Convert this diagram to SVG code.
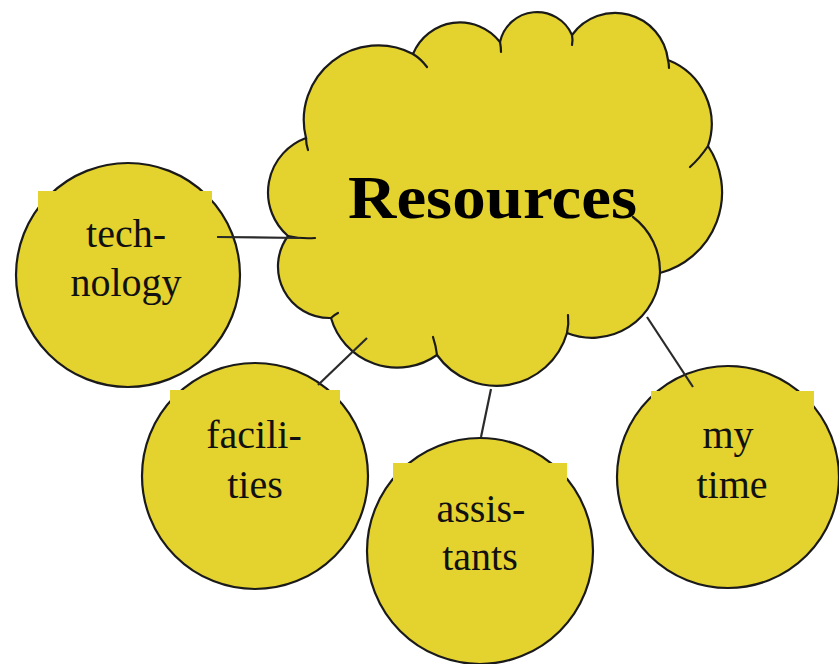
<svg xmlns="http://www.w3.org/2000/svg" width="839" height="664" viewBox="0 0 839 664">
<style>
.shape{fill:#E4D22E;stroke:#1a1a1a;stroke-width:2.2}
.stub{fill:none;stroke:#1a1a1a;stroke-width:2.2;stroke-linecap:round}
.pad{fill:#E4D22E;stroke:none}
.lbl{font-family:"Liberation Serif","Times New Roman",serif;font-size:40px;fill:#111;text-anchor:middle}
.title{font-family:"Liberation Serif","Times New Roman",serif;font-size:62px;font-weight:bold;fill:#000}
.conn{stroke:#2a2a2a;stroke-width:2.2;fill:none}
</style>
<rect width="839" height="664" fill="#ffffff"/>
<g id="resources">
<path class="shape" d="M288,236 A57.8,57.8 0 0 1 306,138 A74.5,74.5 0 0 1 413,54 A50.7,50.7 0 0 1 500,42 A38,38 0 0 1 572,35 A53.2,53.2 0 0 1 668,60 A68.6,68.6 0 0 1 708,146 A83.4,83.4 0 0 1 660,273 A68,68 0 0 1 567,333 A73.2,73.2 0 0 1 437,355 A68.9,68.9 0 0 1 331,318 A51.5,51.5 0 0 1 288,236 Z"/>
<path class="stub" d="M288,236 Q301,239 315,238"/>
<path class="stub" d="M306,138 Q306,144 308,150"/>
<path class="stub" d="M413,54 Q421,59 427,67"/>
<path class="stub" d="M500,42 Q501,47 501,52"/>
<path class="stub" d="M572,35 Q573,40 572,45"/>
<path class="stub" d="M668,60 Q669,64 669,68"/>
<path class="stub" d="M708,146 Q700,158 690,167"/>
<path class="stub" d="M633,217 A68,68 0 0 1 660,273"/>
<path class="stub" d="M567,333 Q569,324 568,315"/>
<path class="stub" d="M437,355 Q436,346 433,337"/>
<path class="stub" d="M331,318 Q334,315 338,313"/>
<text class="title" x="348" y="218" textLength="289" lengthAdjust="spacingAndGlyphs">Resources</text>
</g>
<g id="technology">
<circle class="shape" cx="128" cy="275" r="112"/>
<rect class="pad" x="38" y="191" width="174" height="140"/>
<text class="lbl" x="126" y="247">tech-</text>
<text class="lbl" x="126" y="296">nology</text>
</g>
<g id="facilities">
<circle class="shape" cx="255" cy="476" r="113"/>
<rect class="pad" x="170" y="390" width="170" height="150"/>
<text class="lbl" x="254" y="448">facili-</text>
<text class="lbl" x="255" y="498">ties</text>
</g>
<g id="assistants">
<circle class="shape" cx="480" cy="551" r="113"/>
<rect class="pad" x="393" y="463" width="174" height="150"/>
<text class="lbl" x="481" y="522">assis-</text>
<text class="lbl" x="480" y="570">tants</text>
</g>
<g id="mytime">
<circle class="shape" cx="728" cy="477" r="111"/>
<rect class="pad" x="651" y="391" width="163" height="150"/>
<text class="lbl" x="728" y="448">my</text>
<text class="lbl" x="732" y="498">time</text>
</g>
<g id="connectors">
<line class="conn" x1="217" y1="237" x2="300" y2="238"/>
<line class="conn" x1="318" y1="385" x2="367" y2="338"/>
<line class="conn" x1="491" y1="389" x2="481" y2="437"/>
<line class="conn" x1="647" y1="317" x2="693" y2="387"/>
</g>
</svg>
